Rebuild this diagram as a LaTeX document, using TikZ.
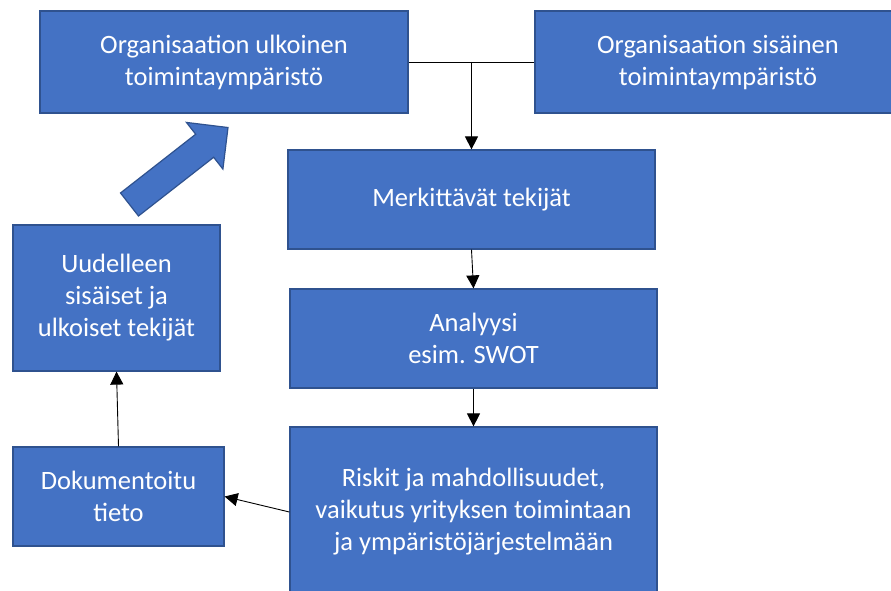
\documentclass[tikz,border=0pt]{standalone}
\usepackage{fontspec}
\setmainfont{Carlito}
\usetikzlibrary{arrows.meta,shapes.arrows}
\definecolor{ofblue}{HTML}{4472C4}
\definecolor{ofblued}{HTML}{2F528F}
\tikzset{
  stage/.style     = {draw=ofblued, fill=ofblue, line width=1.2pt, align=center,
                      text=white, font=\fontsize{26.5}{32}\selectfont, inner sep=0pt},
  flow/.style      = {-{Triangle[length=13pt,width=13pt]}, draw=black,
                      line width=0.9pt},
  link/.style      = {draw=black, line width=0.9pt},
  bigarrow/.style  = {single arrow, draw=ofblued, fill=ofblue, line width=1.2pt,
                      inner sep=0pt, text height=28pt, text depth=0pt,
                      minimum height=125pt, single arrow head extend=15pt},
}
\begin{document}
\begin{tikzpicture}[x=1pt, y=-1pt]
  \useasboundingbox (0,0) rectangle (891,591);
  \fill[white] (0,0) rectangle (891,591);

  % ---------- top row -----------------------------------------------------
  \node[stage, minimum width=368pt, minimum height=102pt] (ulk) at (224, 62)
    {Organisaation ulkoinen\\ toimintaympäristö};
  \node[stage, minimum width=366pt, minimum height=102pt] (sis) at (718, 62)
    {Organisaation sisäinen\\ toimintaympäristö};

  % ---------- middle column -----------------------------------------------
  \node[stage, minimum width=367pt, minimum height=99pt] (merk) at (471.5, 199.5)
    {Merkittävät tekijät};
  \node[stage, minimum width=367pt, minimum height=99pt] (ana) at (473.5, 338.5)
    {Analyysi\\ esim. SWOT};
  \node[stage, minimum width=367pt, minimum height=170pt] (risk) at (473.5, 512)
    {Riskit ja mahdollisuudet,\\ vaikutus yrityksen toimintaan\\ ja ympäristöjärjestelmään};

  % ---------- left column -------------------------------------------------
  \node[stage, minimum width=207pt, minimum height=146pt] (uud) at (116.5, 298)
    {Uudelleen\\ sisäiset ja\\ ulkoiset tekijät};
  \node[stage, minimum width=211pt, minimum height=99pt] (dok) at (118.5, 496.5)
    {Dokumentoitu\\ tieto};

  % back to the outer environment
  \node[bigarrow, rotate=38] (back) at (173, 170.5) {};

  % ---------- connectors --------------------------------------------------
  \draw[link] (ulk.east) -- (sis.west);
  \coordinate (join) at (ulk.east -| merk.north);
  \draw[flow] (join) -- (merk.north);
  \draw[flow] (merk.south) -- (ana.north);
  \draw[flow] (ana.south) -- (risk.north);
  \draw[flow] (risk.west) -- (dok.east);
  \draw[flow] (dok.north) -- (uud.south);

\end{tikzpicture}
\end{document}
